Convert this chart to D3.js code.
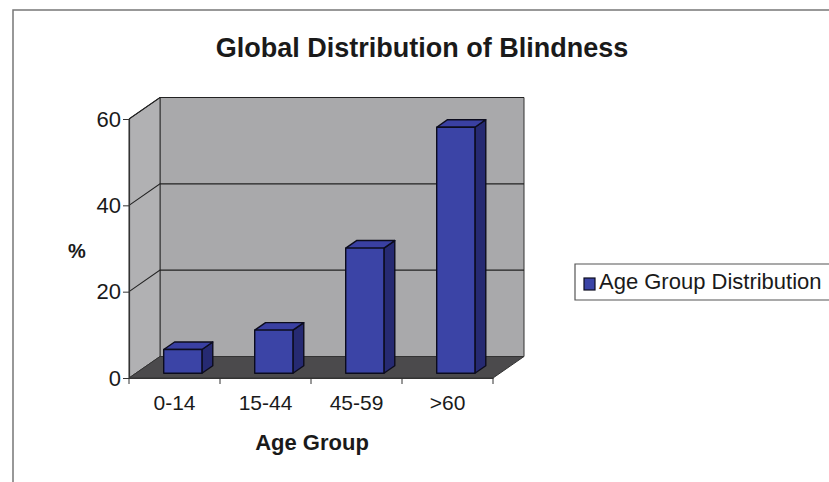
<!DOCTYPE html>
<html>
<head>
<meta charset="utf-8">
<script src="https://cdn.jsdelivr.net/npm/d3@7/dist/d3.min.js"></script>
<style>
  html, body { margin: 0; padding: 0; background: #fff; }
  svg { display: block; font-family: "Liberation Sans", Arial, sans-serif; }
</style>
</head>
<body>
<svg id="chart" width="829" height="482"></svg>
<script>
// Share of global blindness by age group (%)
const categories = ["0-14", "15-44", "45-59", ">60"];
const values = [5.5, 10, 29, 57];
const yTicks = [0, 20, 40, 60];
const seriesName = "Age Group Distribution";

const svg = d3.select("#chart");
const FONT = "Liberation Sans, Arial, sans-serif";

// Front plane of the plot and the oblique depth vector
const x0 = 129, x1 = 493, yBase = 378, yTop = 119;
const depth = { dx: 31, dy: -21.5 };

const x = d3.scaleBand().domain(categories).range([x0, x1]).paddingInner(0).paddingOuter(0);
const y = d3.scaleLinear().domain([0, 60]).range([yBase, yTop]);

const off = (p, f) => [p[0] + depth.dx * f, p[1] + depth.dy * f];
const poly = pts => "M" + pts.map(p => p.join(",")).join("L") + "Z";

// Outer frame
svg.append("path")
  .attr("d", "M13,482 L13,10 L829,10")
  .attr("fill", "none").attr("stroke", "#777").attr("stroke-width", 1.5);

// Title
svg.append("text")
  .attr("x", 422).attr("y", 57)
  .attr("text-anchor", "middle")
  .attr("font-size", 27).attr("font-weight", "bold").attr("fill", "#1a1a1a")
  .text("Global Distribution of Blindness");

const wall = svg.append("g");

// Back wall
const bw = [off([x0, yBase], 1), off([x1, yBase], 1), off([x1, y(60)], 1), off([x0, y(60)], 1)];
wall.append("path").attr("d", poly(bw)).attr("fill", "#a9a9ab").attr("stroke", "#333").attr("stroke-width", 1);

// Side wall
const sw = [[x0, yBase], off([x0, yBase], 1), off([x0, y(60)], 1), [x0, y(60)]];
wall.append("path").attr("d", poly(sw)).attr("fill", "#b1b1b3").attr("stroke", "#333").attr("stroke-width", 1);

// Floor
const fl = [[x0, yBase], [x1, yBase], off([x1, yBase], 1), off([x0, yBase], 1)];
wall.append("path").attr("d", poly(fl)).attr("fill", "#4b4a4c").attr("stroke", "#333").attr("stroke-width", 1);

// Gridlines across the side and back walls
yTicks.filter(t => t > 0).forEach(t => {
  const a = [x0, y(t)], b = off(a, 1), c = off([x1, y(t)], 1);
  wall.append("path")
    .attr("d", `M${a}L${b}L${c}`)
    .attr("fill", "none").attr("stroke", "#222").attr("stroke-width", 1.1);
});

// Bars as oblique boxes
const barW = x.bandwidth() * 0.42;
const fFront = 0.22, fBack = 0.57;
const bars = svg.append("g");
categories.forEach((c, i) => {
  const v = values[i];
  const cx = x(c) + x.bandwidth() / 2 + 1.5;
  const L = off([cx - barW / 2, 0], fFront)[0];
  const R = L + barW;
  const dyF = depth.dy * fFront;
  const bot = y(0) + dyF, top = y(v) + dyF;
  const ddx = depth.dx * (fBack - fFront), ddy = depth.dy * (fBack - fFront);
  const g = bars.append("g").attr("stroke", "#0c0c1e").attr("stroke-width", 1.4).attr("stroke-linejoin", "round");
  // side
  g.append("path").attr("d", poly([[R, bot], [R + ddx, bot + ddy], [R + ddx, top + ddy], [R, top]])).attr("fill", "#262a72");
  // top
  g.append("path").attr("d", poly([[L, top], [R, top], [R + ddx, top + ddy], [L + ddx, top + ddy]])).attr("fill", "#3a40a2");
  // front
  g.append("path").attr("d", poly([[L, bot], [R, bot], [R, top], [L, top]])).attr("fill", "#3b44a6");
});

// Y axis
const yAxis = d3.axisLeft(y).tickValues(yTicks).tickSize(6).tickPadding(2).tickFormat(d3.format("d"));
const gy = svg.append("g").attr("transform", `translate(${x0},0)`).call(yAxis);
gy.select(".domain").attr("stroke", "#333").attr("stroke-width", 1.2);
gy.selectAll(".tick line").attr("stroke", "#333");
gy.selectAll("text").attr("font-size", 22).attr("fill", "#1a1a1a").attr("font-family", FONT);

// X axis
const xAxis = d3.axisBottom(x).tickSize(0).tickPadding(17);
const gx = svg.append("g").attr("transform", `translate(0,${yBase})`).call(xAxis);
gx.select(".domain").attr("stroke", "#333").attr("stroke-width", 1.2);
gx.selectAll("text").attr("font-size", 21).attr("fill", "#1a1a1a").attr("font-family", FONT);
// category boundary ticks
const bounds = categories.map(c => x(c)).concat([x1]);
gx.selectAll(".bound").data(bounds).enter().append("line")
  .attr("x1", d => d).attr("x2", d => d).attr("y1", 0).attr("y2", 6)
  .attr("stroke", "#333");

// Axis titles
svg.append("text").attr("x", 77).attr("y", 258).attr("text-anchor", "middle")
  .attr("font-size", 20).attr("font-weight", "bold").attr("fill", "#1a1a1a").text("%");
svg.append("text").attr("x", 312).attr("y", 450).attr("text-anchor", "middle")
  .attr("font-size", 22).attr("font-weight", "bold").attr("fill", "#1a1a1a").text("Age Group");

// Legend
const lg = svg.append("g");
lg.append("path").attr("d", "M829,264 L575,264 L575,300 L829,300")
  .attr("fill", "#fff").attr("stroke", "#555").attr("stroke-width", 1.2);
lg.append("rect").attr("x", 584).attr("y", 278).attr("width", 11).attr("height", 12)
  .attr("fill", "#3b44a6").attr("stroke", "#0c0c1e").attr("stroke-width", 1.2);
lg.append("text").attr("x", 599).attr("y", 289).attr("font-size", 22).attr("fill", "#1a1a1a").text(seriesName);
</script>
</body>
</html>
